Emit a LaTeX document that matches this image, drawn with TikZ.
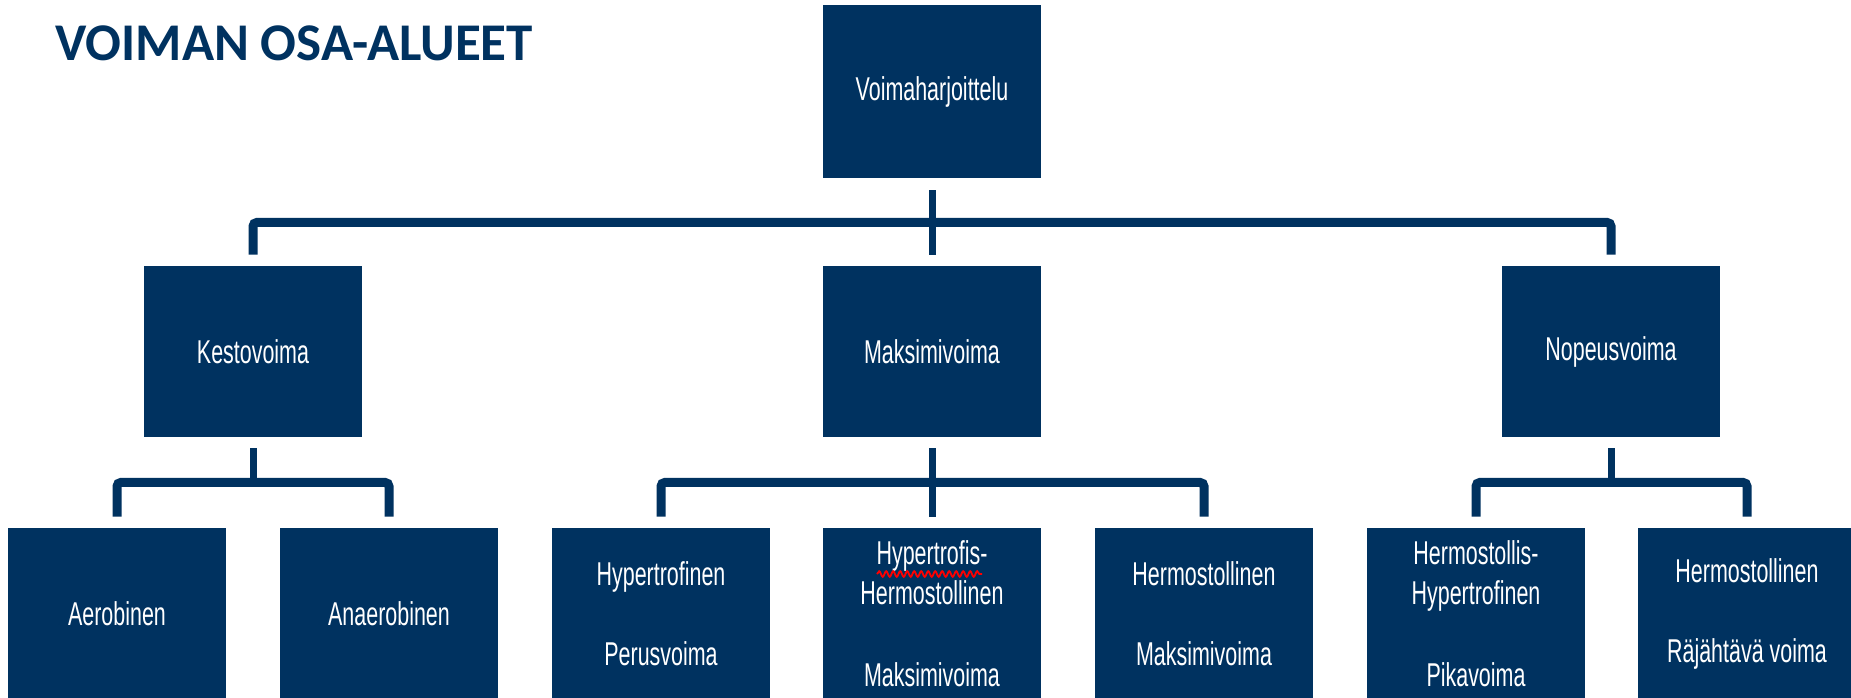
\documentclass[tikz,border=0pt]{standalone}
\usepackage{fontspec}
\setmainfont{Liberation Sans}
\newfontfamily\boxfont[FakeStretch=0.65]{Liberation Sans}
\newfontfamily\titlefont{Carlito}
\usetikzlibrary{decorations.pathmorphing}
\definecolor{navy}{RGB}{0,50,96}

\begin{document}
\begin{tikzpicture}[x=0.5pt,y=-0.5pt,
  box/.style={fill=navy,text=white,minimum width=109pt,minimum height=85.5pt,
    inner sep=0pt,align=center,font=\boxfont\fontsize{16.5}{20}\selectfont},
  bar/.style={draw=navy,line width=4.5pt,rounded corners=2pt},
  stem/.style={draw=navy,line width=3.5pt}]
  \useasboundingbox[fill=white] (0,0) rectangle (1851,697);
  \node[anchor=base west,inner sep=0pt,text=navy,
    font=\titlefont\bfseries\fontsize{26.5}{30}\selectfont] (title) at (55,60) {VOIMAN OSA-ALUEET};
  % top and middle row
  \node[box,minimum height=86.5pt] (top) at (932,91.5) {Voimaharjoittelu};
  \node[box] (kesto) at (253,351.5) {Kestovoima};
  \node[box] (maksimi) at (932,351.5) {Maksimivoima};
  \node[box] (nopeus) at (1611,351.5) {Nopeusvoima};
  % bottom row
  \node[box] (aero) at (117,613.5) {Aerobinen};
  \node[box] (anaero) at (389,613.5) {Anaerobinen};
  \node[box] (hyper) at (661,613.5) {Hypertrofinen\\[20pt]Perusvoima};
  \node[box] (hyperherm) at (932,613.5) {Hypertrofis-\\Hermostollinen\\[21pt]Maksimivoima};
  \node[box] (herm) at (1204,613.5) {Hermostollinen\\[20pt]Maksimivoima};
  \node[box] (hermhyper) at (1476,613.5) {Hermostollis-\\Hypertrofinen\\[21pt]Pikavoima};
  \node[box] (rajahtava) at (1747,613.5) {Hermostollinen\\[20pt]Räjähtävä voima};
  \draw[red,line width=0.9pt,decorate,decoration={snake,amplitude=1.4pt,segment length=3.5pt}]
    (877,574) -- (982,574);
  % connectors
  \draw[stem] ([yshift=-6pt]top.south) -- ([yshift=5.5pt]maksimi.north);
  \draw[bar] ([yshift=5.5pt]kesto.north) |- ([yshift=-22pt]top.south)
    -| ([yshift=5.5pt]nopeus.north);
  \draw[stem] ([yshift=-5.5pt]kesto.south) -- ([yshift=-22.5pt]kesto.south);
  \draw[bar] ([yshift=5.5pt]aero.north) |- ([yshift=-22.5pt]kesto.south)
    -| ([yshift=5.5pt]anaero.north);
  \draw[stem] ([yshift=-5.5pt]maksimi.south) -- ([yshift=5.5pt]hyperherm.north);
  \draw[bar] ([yshift=5.5pt]hyper.north) |- ([yshift=-22.5pt]maksimi.south)
    -| ([yshift=5.5pt]herm.north);
  \draw[stem] ([yshift=-5.5pt]nopeus.south) -- ([yshift=-22.5pt]nopeus.south);
  \draw[bar] ([yshift=5.5pt]hermhyper.north) |- ([yshift=-22.5pt]nopeus.south)
    -| ([yshift=5.5pt]rajahtava.north);
\end{tikzpicture}
\end{document}
